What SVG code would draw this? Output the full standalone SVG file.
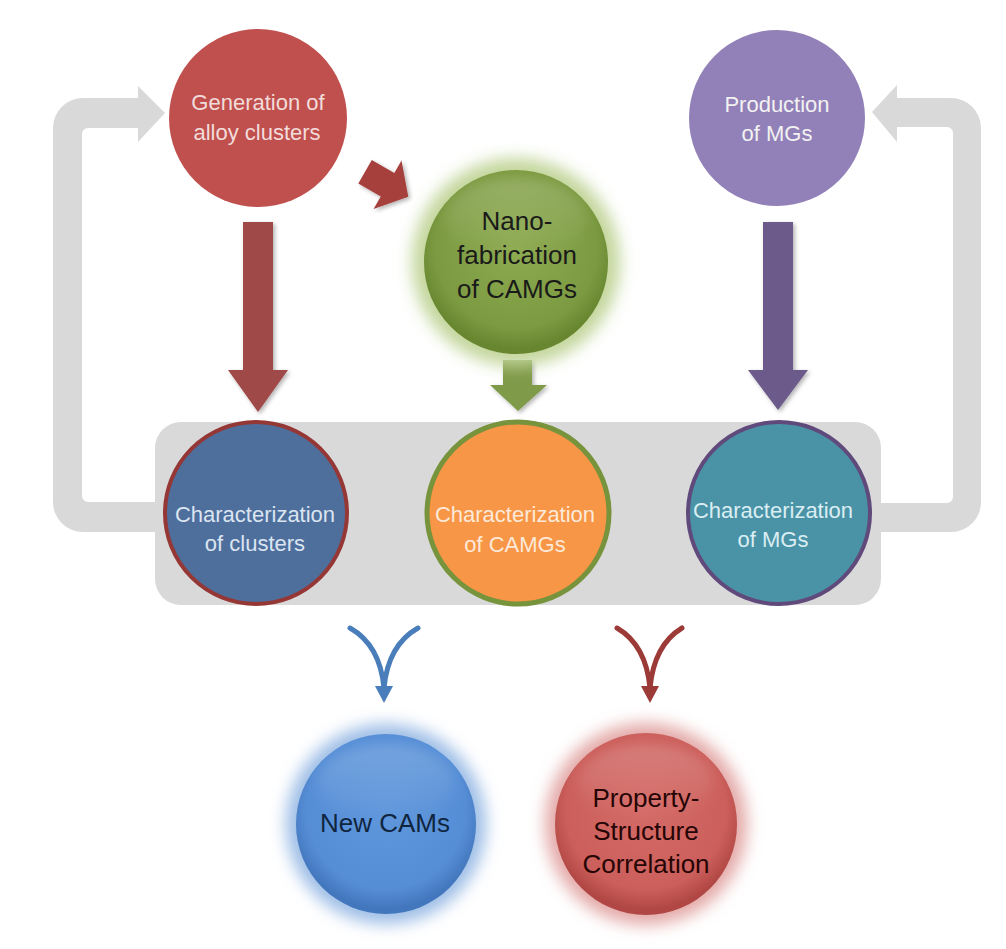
<svg xmlns="http://www.w3.org/2000/svg" width="1006" height="949" viewBox="0 0 1006 949">
<defs>
<style>
.t{font-family:"Liberation Sans",Arial,sans-serif;text-anchor:middle}
.s22{font-size:22px}
.s26{font-size:26px}
.loop{fill:#d9d9d9}
.hl{fill:url(#hl);filter:url(#soft)}
</style>
<filter id="sh" x="-30%" y="-30%" width="160%" height="160%">
<feDropShadow dx="2" dy="2" stdDeviation="2" flood-color="#000" flood-opacity="0.3"/>
</filter>
<filter id="glow" x="-40%" y="-40%" width="180%" height="180%">
<feGaussianBlur stdDeviation="8"/>
</filter>
<filter id="soft" x="-30%" y="-30%" width="160%" height="160%">
<feGaussianBlur stdDeviation="6"/>
</filter>
<clipPath id="cN"><circle cx="516" cy="262" r="92"/></clipPath>
<clipPath id="cB"><circle cx="386" cy="824" r="90"/></clipPath>
<clipPath id="cR"><circle cx="646" cy="824" r="91"/></clipPath>
<radialGradient id="gGreen" cx="50%" cy="42%" r="55%">
<stop offset="0" stop-color="#8dab50"/>
<stop offset="0.8" stop-color="#7c9a41"/>
<stop offset="1" stop-color="#67862f"/>
</radialGradient>
<radialGradient id="gBlue" cx="50%" cy="42%" r="55%">
<stop offset="0" stop-color="#5f97dc"/>
<stop offset="0.8" stop-color="#568ed6"/>
<stop offset="1" stop-color="#4377bd"/>
</radialGradient>
<radialGradient id="gRed" cx="50%" cy="42%" r="55%">
<stop offset="0" stop-color="#d46a66"/>
<stop offset="0.8" stop-color="#cc5f5b"/>
<stop offset="1" stop-color="#b14744"/>
</radialGradient>
<linearGradient id="hl" x1="0" y1="0" x2="0" y2="1">
<stop offset="0" stop-color="#fff" stop-opacity="0.18"/>
<stop offset="1" stop-color="#fff" stop-opacity="0"/>
</linearGradient>
</defs>
<rect width="1006" height="949" fill="#fff"/>

<g id="connectors">
<path class="loop" d="M138,98 L83,98 A30,30 0 0 0 53,128 L53,502 A30,30 0 0 0 83,532 L165,532 L165,502 L88,502 A6,6 0 0 1 82,496 L82,134 A6,6 0 0 1 88,128 L138,128 L138,142 L165,113 L138,86 Z"/>
<path class="loop" d="M897,98 L951,98 A30,30 0 0 1 981,128 L981,502 A30,30 0 0 1 951,532 L872,532 L872,503 L947,503 A6,6 0 0 0 953,497 L953,133 A6,6 0 0 0 947,127 L897,127 L897,142 L872,112 L897,85 Z"/>
<polygon filter="url(#sh)" fill="#9f4a48" points="243,222 273,222 273,370 288,370 258,412 228,370 243,370"/>
<polygon filter="url(#sh)" fill="#6c5a8b" points="763,222 793,222 793,370 808,370 778,410 748,370 763,370"/>
<polygon filter="url(#sh)" fill="#7f9a48" points="503,360 532,360 532,385 547,385 518,411 490,385 503,385"/>
<polygon filter="url(#sh)" fill="#a6403e" points="371.8,160 358.3,183.4 380.8,196.4 373.5,209 408.3,196.7 401.5,160.5 394.3,173"/>
<g fill="none" stroke="#4a7ebb" stroke-width="5" stroke-linecap="round">
<path d="M350,628 Q380,645 384,688"/>
<path d="M418,628 Q388,645 384,688"/>
</g>
<polygon fill="#4a7ebb" points="375,686 393,686 384,703"/>
<g fill="none" stroke="#9b3a37" stroke-width="5" stroke-linecap="round">
<path d="M617,628 Q646,645 650,688"/>
<path d="M682,628 Q654,645 650,688"/>
</g>
<polygon fill="#9b3a37" points="641,686 659,686 650,703"/>
</g>

<g id="container">
<rect x="155" y="422" width="726" height="183" rx="26" fill="#d9d9d9"/>
</g>

<g id="gen">
<circle cx="258" cy="118" r="89" fill="#c0504d"/>
<text class="t s22" fill="#f2dcdb"><tspan x="258" y="110">Generation of</tspan><tspan x="257" y="140">alloy clusters</tspan></text>
</g>

<g id="prod">
<circle cx="777" cy="118" r="88" fill="#9281b8"/>
<text class="t s22" fill="#f2f2f2"><tspan x="777" y="112">Production</tspan><tspan x="777" y="141">of MGs</tspan></text>
</g>

<g id="nano">
<circle cx="516" cy="262" r="104" fill="#c3d69b" filter="url(#glow)"/>
<circle cx="516" cy="262" r="92" fill="url(#gGreen)"/>
<g clip-path="url(#cN)"><ellipse class="hl" cx="516" cy="218" rx="70" ry="40"/></g>
<text class="t s26" fill="#1a1a1a"><tspan x="517" y="230">Nano-</tspan><tspan x="517" y="264">fabrication</tspan><tspan x="517" y="298">of CAMGs</tspan></text>
</g>

<g id="charClusters">
<circle cx="256" cy="513" r="91" fill="#4e6e9c" stroke="#953735" stroke-width="4"/>
<text class="t s22" fill="#dbe5f1"><tspan x="255" y="522">Characterization</tspan><tspan x="255" y="551">of clusters</tspan></text>
</g>

<g id="charCAMGs">
<circle cx="518" cy="513" r="91" fill="#f79646" stroke="#77933c" stroke-width="5"/>
<text class="t s22" fill="#fde9d9"><tspan x="515" y="522">Characterization</tspan><tspan x="515" y="552">of CAMGs</tspan></text>
</g>

<g id="charMGs">
<circle cx="779" cy="513" r="91" fill="#4a93a6" stroke="#604a7b" stroke-width="4"/>
<text class="t s22" fill="#daeef3"><tspan x="773" y="518">Characterization</tspan><tspan x="773" y="547">of MGs</tspan></text>
</g>

<g id="newCAMs">
<circle cx="386" cy="824" r="100" fill="#9dbde6" filter="url(#glow)"/>
<circle cx="386" cy="824" r="90" fill="url(#gBlue)"/>
<g clip-path="url(#cB)"><ellipse class="hl" cx="386" cy="782" rx="68" ry="38"/></g>
<text class="t s26" fill="#10253f" x="385" y="832">New CAMs</text>
</g>

<g id="propStruct">
<circle cx="646" cy="824" r="101" fill="#e3a9a7" filter="url(#glow)"/>
<circle cx="646" cy="824" r="91" fill="url(#gRed)"/>
<g clip-path="url(#cR)"><ellipse class="hl" cx="646" cy="782" rx="68" ry="38"/></g>
<text class="t s26" fill="#260505"><tspan x="646" y="807">Property-</tspan><tspan x="646" y="840">Structure</tspan><tspan x="646" y="873">Correlation</tspan></text>
</g>
</svg>
